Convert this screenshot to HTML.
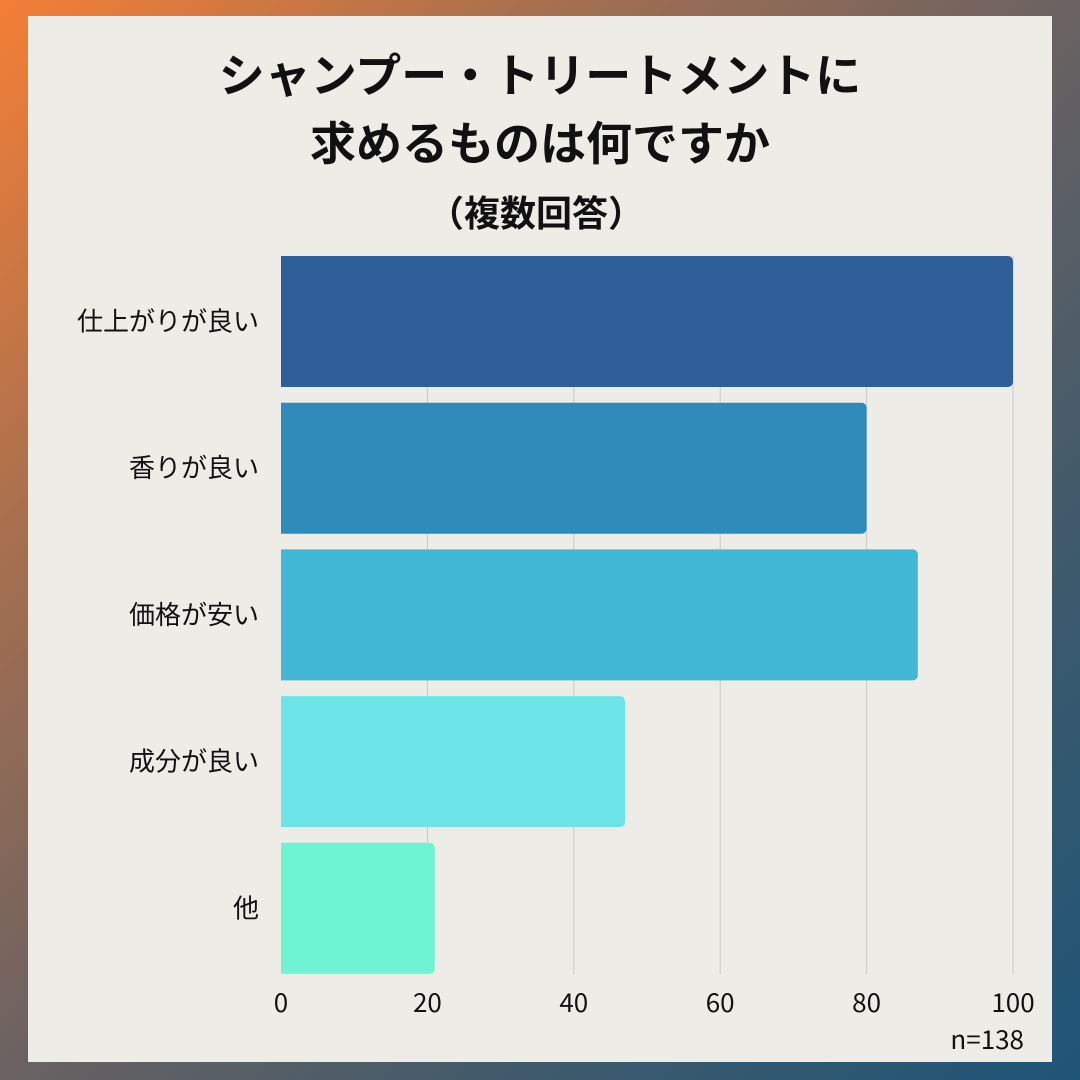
<!DOCTYPE html>
<html><head><meta charset="utf-8">
<style>
html,body{margin:0;padding:0;}
body{width:1080px;height:1080px;position:relative;overflow:hidden;
background:linear-gradient(135deg,#f47f36 0%,#a8704f 25%,#6a6262 50%,#3e5a6c 75%,#1f5577 100%);
font-family:"Liberation Sans","Noto Sans CJK JP",sans-serif;}
#panel{position:absolute;left:28px;top:16px;width:1024px;height:1046px;background:#edece7;}
svg{position:absolute;left:0;top:0;}
</style></head><body>
<div id="panel"></div>
<svg width="1080" height="1080">
<text x="540" y="92" text-anchor="middle" font-size="46" font-weight="bold" fill="#111" font-family="Noto Sans CJK JP, sans-serif">シャンプー・トリートメントに</text>
<text x="540" y="160" text-anchor="middle" font-size="46" font-weight="bold" fill="#111" font-family="Noto Sans CJK JP, sans-serif">求めるものは何ですか</text>
<text x="536" y="226" text-anchor="middle" font-size="36" font-weight="bold" fill="#111" font-family="Noto Sans CJK JP, sans-serif">（複数回答）</text>
<g id="grid"></g><g id="bars"></g><g id="labels"></g><g id="ticks"></g>
<text x="1024" y="1049" text-anchor="end" font-size="26" fill="#111" font-family="Noto Sans CJK JP, sans-serif">n=138</text>
</svg>
<script>
const categories=["仕上がりが良い","香りが良い","価格が安い","成分が良い","他"];
const values=[100,80,87,47,21];
const colors=["#2f5f98","#2e8bba","#43b8d6","#6ce4e8","#6ef4d2"];
const ticks=[0,20,40,60,80,100];
const NS="http://www.w3.org/2000/svg";
const x0=281,x1=1013,top0=256,bandStep=146.7,barH=131,gridBottom=974;
const xs=v=>x0+(x1-x0)*v/100;
const ys=i=>top0+i*bandStep;
function mk(t,a){const e=document.createElementNS(NS,t);for(const k in a)e.setAttribute(k,a[k]);return e;}
const grid=document.getElementById('grid'),bars=document.getElementById('bars'),labels=document.getElementById('labels'),tk=document.getElementById('ticks');
ticks.forEach(t=>{
 if(t>0){const l=mk('line',{x1:xs(t),x2:xs(t),y1:top0,y2:gridBottom,stroke:'#c9c9c6','stroke-width':1});
 
 grid.appendChild(l);}
 const tx=mk('text',{x:xs(t),y:1012,'text-anchor':'middle','font-size':26,fill:'#111','font-family':'Noto Sans CJK JP, sans-serif'});
 tx.textContent=t;
 
 tk.appendChild(tx);
});
categories.forEach((c,i)=>{
 const w=xs(values[i])-x0;
 const r=mk('path',{d:`M${x0},${ys(i)} h${w-5} a5,5 0 0 1 5,5 v${barH-10} a5,5 0 0 1 -5,5 h${-(w-5)} z`,fill:colors[i]});
 
 bars.appendChild(r);
 const t=mk('text',{x:259,y:ys(i)+barH/2+9,'text-anchor':'end','font-size':26,fill:'#111','font-family':'Noto Sans CJK JP, sans-serif'});
 t.textContent=c;
 
 labels.appendChild(t);
});
</script>
</body></html>
